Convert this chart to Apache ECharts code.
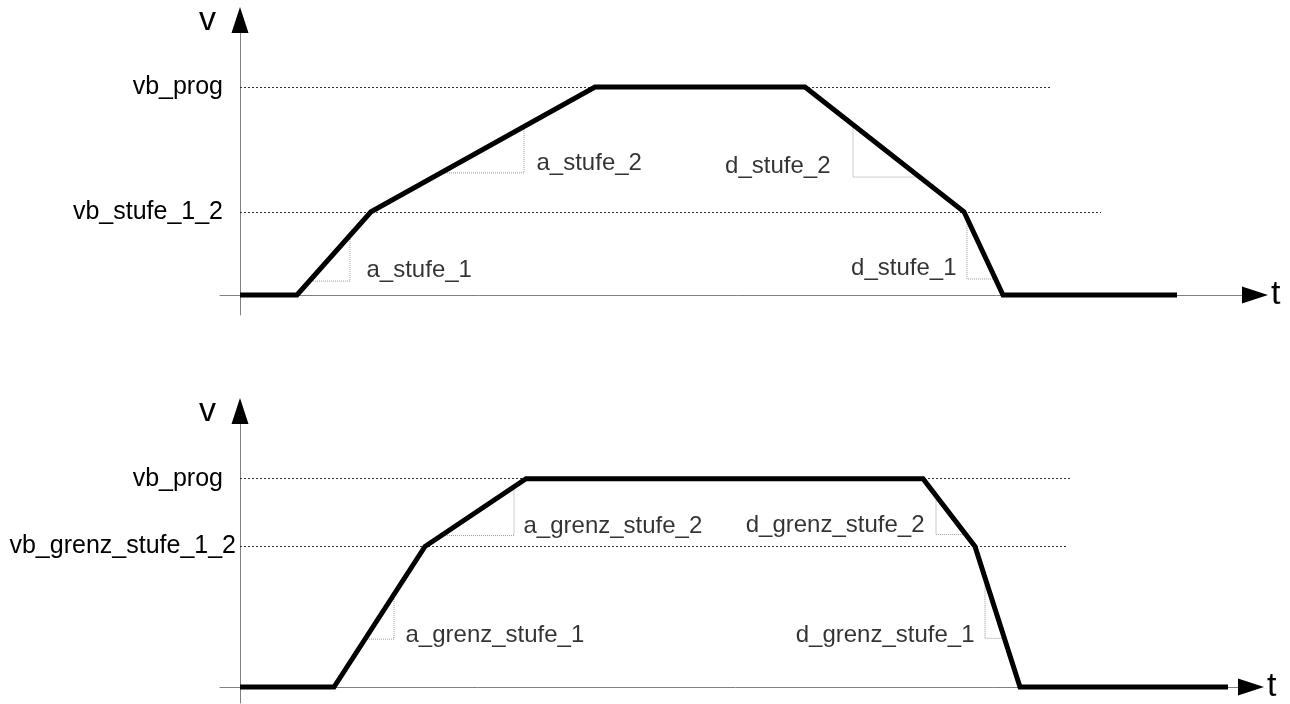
<!DOCTYPE html>
<html>
<head>
<meta charset="utf-8">
<script src="https://cdn.jsdelivr.net/npm/echarts@6/dist/echarts.min.js"></script>
<style>
html, body { margin: 0; padding: 0; background: #fff; }
#chart { width: 1290px; height: 704px; }
</style>
</head>
<body>
<div id="chart"></div>
<script>
// Geschwindigkeitsprofil: t in willkuerlichen Einheiten, v in % von vb_prog
const profil1 = [[0, 0], [5.7, 0], [13.1, 40], [35.5, 100], [56.5, 100], [72.4, 40], [76.3, 0], [93.7, 0]]
const profil2 = [[0, 0], [9.4, 0], [18.5, 67.5], [28.6, 100], [68.3, 100], [73.5, 67.5], [78.0, 0], [98.8, 0]]

// Niveaus (Name, v, Ende der Hilfslinie in t)
const niveau1 = [['vb_prog', 100, 81.1], ['vb_stufe_1_2', 40, 86.1]]
const niveau2 = [['vb_prog', 100, 83.1], ['vb_grenz_stufe_1_2', 67.5, 82.6]]

// Steigungsdreiecke und Beschriftung
const rampen1 = [
  { name: 'a_stufe_1', pts: [[6.9, 6.7], [11, 6.7], [11, 28]], at: [12.6, 12.0], seite: 'right' },
  { name: 'a_stufe_2', pts: [[20.1, 58.7], [28.4, 58.7], [28.4, 80]], at: [29.6, 63.5], seite: 'right' },
  { name: 'd_stufe_2', pts: [[61.3, 81], [61.3, 56.7], [67.9, 56.7]], at: [59.1, 62.0], seite: 'left' },
  { name: 'd_stufe_1', pts: [[72.7, 36], [72.7, 7.7], [75.5, 7.7]], at: [71.7, 13.0], seite: 'left' }
]
const rampen2 = [
  { name: 'a_grenz_stufe_1', pts: [[12.5, 23], [15.4, 23], [15.4, 44]], at: [16.5, 24.6], seite: 'right' },
  { name: 'a_grenz_stufe_2', pts: [[20.1, 72.7], [27.4, 72.7], [27.4, 95.5]], at: [28.3, 77.0], seite: 'right' },
  { name: 'd_grenz_stufe_2', pts: [[69.6, 91.5], [69.6, 73.2], [72.5, 73.2]], at: [68.5, 77.5], seite: 'left' },
  { name: 'd_grenz_stufe_1', pts: [[74.5, 52], [74.5, 23.4], [76.4, 23.4]], at: [73.5, 24.8], seite: 'left' }
]

const schrift = 'Liberation Sans, Arial, sans-serif'
// Abstand der Niveau-Beschriftung zur v-Achse
const abstand = { vb_grenz_stufe_1_2: 4 }

function achsen (grid, min, max, dim) {
  const haupt = {
    type: 'value',
    gridIndex: grid,
    min: min,
    max: max,
    axisLine: { onZero: true, lineStyle: { color: '#808080', width: 1 } },
    axisTick: { show: false },
    axisLabel: { show: false },
    splitLine: { show: false }
  }
  if (dim === 'x') {
    haupt.name = 't'
    haupt.nameGap = 16
    haupt.nameTextStyle = { fontSize: 34, fontFamily: schrift, color: '#000', padding: [6, 0, 0, 0] }
  } else {
    haupt.position = 'left'
    haupt.name = 'v'
    haupt.nameGap = -1
    haupt.nameTextStyle = { fontSize: 34, fontFamily: schrift, color: '#000', align: 'right', verticalAlign: 'middle', padding: [0, 24, 0, 0] }
  }
  // zweite Achse nur fuer den schwarzen Pfeil
  const pfeil = {
    type: 'value',
    gridIndex: grid,
    min: min,
    max: max,
    axisLine: { onZero: true, symbol: ['none', 'triangle'], symbolSize: [17, 26], lineStyle: { color: '#000', width: 0 } },
    axisTick: { show: false },
    axisLabel: { show: false },
    splitLine: { show: false }
  }
  if (dim === 'y') pfeil.position = 'left'
  return [haupt, pfeil]
}

function serien (ax, profil, niveau, rampen) {
  const list = [{
    type: 'line',
    xAxisIndex: ax,
    yAxisIndex: ax,
    data: profil,
    symbol: 'none',
    z: 5,
    lineStyle: { color: '#000', width: 5, join: 'miter' },
    markLine: {
      symbol: 'none',
      silent: true,
      lineStyle: { color: '#333', width: 1, type: [2, 2] },
      label: { show: true, position: 'start', distance: 17, formatter: '{b}', fontSize: 25, fontFamily: schrift, color: '#000' },
      data: niveau.map(n => [
        { coord: [0, n[1]], name: n[0], label: { distance: abstand[n[0]] || 17 } },
        { coord: [n[2], n[1]] }
      ])
    }
  }]
  rampen.forEach(r => {
    list.push({
      type: 'line',
      xAxisIndex: ax,
      yAxisIndex: ax,
      data: r.pts,
      symbol: 'none',
      z: 2,
      lineStyle: { color: '#999', width: 1, type: [1, 1] }
    })
  })
  list.push({
    type: 'scatter',
    xAxisIndex: ax,
    yAxisIndex: ax,
    symbolSize: 1,
    itemStyle: { color: 'transparent' },
    data: rampen.map(r => ({
      value: r.at,
      name: r.name,
      label: { position: r.seite }
    })),
    label: { show: true, distance: 0, formatter: '{b}', fontSize: 24, fontFamily: schrift, color: '#000' }
  })
  return list
}

let myChart = echarts.init(document.getElementById('chart'))
myChart.setOption({
  animation: false,
  backgroundColor: '#fff',
  grid: [
    { left: 220, top: 20, width: 1035, height: 295 },
    { left: 220, top: 411, width: 1031, height: 293 }
  ],
  xAxis: achsen(0, -2, 101.5, 'x').concat(achsen(1, -2, 101.1, 'x')),
  yAxis: achsen(0, -9.6, 132.2, 'y').concat(achsen(1, -7.66, 132.5, 'y')),
  series: serien(0, profil1, niveau1, rampen1).concat(serien(2, profil2, niveau2, rampen2))
})
window.addEventListener('resize', function () {
  myChart.resize()
})
</script>
</body>
</html>
